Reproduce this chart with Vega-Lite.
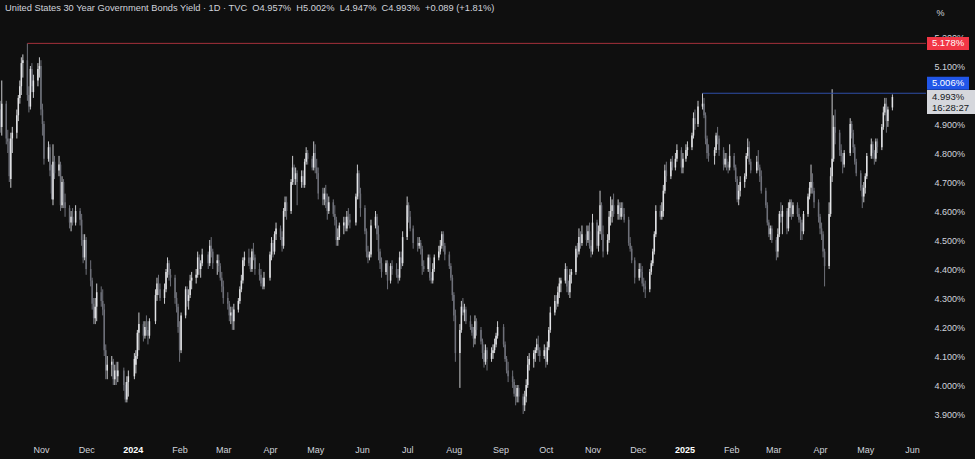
{
"$schema":"https://vega.github.io/schema/vega-lite/v6.json",
"width":926,"height":437,
"autosize":{"type":"none"},
"padding":{"left":0,"top":0,"right":49,"bottom":22},
"background":"#0f0f0f",
"config":{"view":{"stroke":null},"font":"Liberation Sans"},
"title":{"text":"United States 30 Year Government Bonds Yield · 1D · TVC\u00a0 O4.957%\u00a0 H5.002%\u00a0 L4.947%\u00a0 C4.993%\u00a0 +0.089 (+1.81%)","anchor":"start","frame":"group","orient":"top","offset":-17,"fontSize":9.3,"fontWeight":"normal","color":"#d1d4dc","dx":5,"baseline":"middle"},
"datasets":{
"candles":[
{"t":"2023-10-05","o":4.95,"h":4.98,"l":4.87,"c":4.89},
{"t":"2023-10-06","o":4.89,"h":5.05,"l":4.86,"c":4.97},
{"t":"2023-10-09","o":4.97,"h":4.98,"l":4.83,"c":4.85},
{"t":"2023-10-10","o":4.85,"h":4.88,"l":4.80,"c":4.84},
{"t":"2023-10-11","o":4.84,"h":4.85,"l":4.70,"c":4.72},
{"t":"2023-10-12","o":4.71,"h":4.87,"l":4.68,"c":4.85},
{"t":"2023-10-13","o":4.85,"h":4.89,"l":4.80,"c":4.87},
{"t":"2023-10-16","o":4.87,"h":4.95,"l":4.85,"c":4.93},
{"t":"2023-10-17","o":4.93,"h":5.00,"l":4.91,"c":4.99},
{"t":"2023-10-18","o":4.99,"h":5.05,"l":4.97,"c":5.03},
{"t":"2023-10-19","o":5.03,"h":5.13,"l":5.00,"c":5.11},
{"t":"2023-10-20","o":5.11,"h":5.14,"l":5.06,"c":5.12},
{"t":"2023-10-23","o":5.12,"h":5.178,"l":4.98,"c":5.00},
{"t":"2023-10-24","o":5.00,"h":5.03,"l":4.94,"c":4.96},
{"t":"2023-10-25","o":4.96,"h":5.10,"l":4.95,"c":5.09},
{"t":"2023-10-26","o":5.09,"h":5.11,"l":5.01,"c":5.03},
{"t":"2023-10-27","o":5.01,"h":5.07,"l":4.99,"c":5.05},
{"t":"2023-10-30","o":5.05,"h":5.11,"l":5.03,"c":5.09},
{"t":"2023-10-31","o":5.09,"h":5.13,"l":5.06,"c":5.10},
{"t":"2023-11-01","o":5.10,"h":5.12,"l":4.93,"c":4.95},
{"t":"2023-11-02","o":4.95,"h":4.97,"l":4.86,"c":4.90},
{"t":"2023-11-03","o":4.90,"h":4.91,"l":4.76,"c":4.78},
{"t":"2023-11-06","o":4.78,"h":4.84,"l":4.77,"c":4.82},
{"t":"2023-11-07","o":4.82,"h":4.83,"l":4.72,"c":4.74},
{"t":"2023-11-08","o":4.74,"h":4.76,"l":4.64,"c":4.66},
{"t":"2023-11-09","o":4.64,"h":4.83,"l":4.62,"c":4.77},
{"t":"2023-11-10","o":4.77,"h":4.79,"l":4.71,"c":4.73},
{"t":"2023-11-13","o":4.74,"h":4.79,"l":4.72,"c":4.76},
{"t":"2023-11-14","o":4.76,"h":4.77,"l":4.60,"c":4.62},
{"t":"2023-11-15","o":4.62,"h":4.72,"l":4.61,"c":4.70},
{"t":"2023-11-16","o":4.70,"h":4.71,"l":4.61,"c":4.63},
{"t":"2023-11-17","o":4.63,"h":4.66,"l":4.58,"c":4.61},
{"t":"2023-11-20","o":4.61,"h":4.62,"l":4.54,"c":4.56},
{"t":"2023-11-21","o":4.56,"h":4.60,"l":4.53,"c":4.58},
{"t":"2023-11-22","o":4.58,"h":4.61,"l":4.55,"c":4.56},
{"t":"2023-11-24","o":4.56,"h":4.62,"l":4.55,"c":4.60},
{"t":"2023-11-27","o":4.60,"h":4.61,"l":4.55,"c":4.57},
{"t":"2023-11-28","o":4.57,"h":4.59,"l":4.48,"c":4.50},
{"t":"2023-11-29","o":4.50,"h":4.52,"l":4.42,"c":4.44},
{"t":"2023-11-30","o":4.44,"h":4.52,"l":4.43,"c":4.50},
{"t":"2023-12-01","o":4.50,"h":4.51,"l":4.38,"c":4.40},
{"t":"2023-12-04","o":4.40,"h":4.43,"l":4.34,"c":4.36},
{"t":"2023-12-05","o":4.36,"h":4.37,"l":4.26,"c":4.28},
{"t":"2023-12-06","o":4.28,"h":4.30,"l":4.21,"c":4.23},
{"t":"2023-12-07","o":4.23,"h":4.30,"l":4.21,"c":4.27},
{"t":"2023-12-08","o":4.27,"h":4.35,"l":4.22,"c":4.32},
{"t":"2023-12-11","o":4.32,"h":4.34,"l":4.27,"c":4.29},
{"t":"2023-12-12","o":4.29,"h":4.33,"l":4.24,"c":4.26},
{"t":"2023-12-13","o":4.26,"h":4.28,"l":4.10,"c":4.12},
{"t":"2023-12-14","o":4.12,"h":4.14,"l":4.02,"c":4.05},
{"t":"2023-12-15","o":4.05,"h":4.10,"l":4.02,"c":4.07},
{"t":"2023-12-18","o":4.07,"h":4.10,"l":4.03,"c":4.08},
{"t":"2023-12-19","o":4.08,"h":4.09,"l":4.00,"c":4.02},
{"t":"2023-12-20","o":4.02,"h":4.07,"l":4.00,"c":4.05},
{"t":"2023-12-21","o":4.05,"h":4.08,"l":4.00,"c":4.03},
{"t":"2023-12-22","o":4.03,"h":4.08,"l":4.01,"c":4.05},
{"t":"2023-12-26","o":4.05,"h":4.06,"l":3.98,"c":4.00},
{"t":"2023-12-27","o":4.00,"h":4.01,"l":3.94,"c":3.95},
{"t":"2023-12-28","o":3.95,"h":4.03,"l":3.94,"c":4.01},
{"t":"2023-12-29","o":4.01,"h":4.05,"l":3.96,"c":4.03},
{"t":"2024-01-02","o":4.03,"h":4.11,"l":4.02,"c":4.09},
{"t":"2024-01-03","o":4.07,"h":4.12,"l":4.04,"c":4.10},
{"t":"2024-01-04","o":4.10,"h":4.19,"l":4.09,"c":4.18},
{"t":"2024-01-05","o":4.18,"h":4.25,"l":4.12,"c":4.21},
{"t":"2024-01-08","o":4.21,"h":4.22,"l":4.15,"c":4.17},
{"t":"2024-01-09","o":4.17,"h":4.22,"l":4.16,"c":4.20},
{"t":"2024-01-10","o":4.20,"h":4.24,"l":4.17,"c":4.19},
{"t":"2024-01-11","o":4.19,"h":4.22,"l":4.14,"c":4.17},
{"t":"2024-01-12","o":4.17,"h":4.23,"l":4.16,"c":4.22},
{"t":"2024-01-16","o":4.22,"h":4.33,"l":4.21,"c":4.31},
{"t":"2024-01-17","o":4.31,"h":4.37,"l":4.29,"c":4.35},
{"t":"2024-01-18","o":4.35,"h":4.38,"l":4.31,"c":4.33},
{"t":"2024-01-19","o":4.33,"h":4.35,"l":4.29,"c":4.30},
{"t":"2024-01-22","o":4.30,"h":4.35,"l":4.28,"c":4.33},
{"t":"2024-01-23","o":4.33,"h":4.40,"l":4.32,"c":4.39},
{"t":"2024-01-24","o":4.39,"h":4.44,"l":4.37,"c":4.42},
{"t":"2024-01-25","o":4.42,"h":4.43,"l":4.36,"c":4.38},
{"t":"2024-01-26","o":4.38,"h":4.40,"l":4.34,"c":4.37},
{"t":"2024-01-29","o":4.37,"h":4.38,"l":4.28,"c":4.30},
{"t":"2024-01-30","o":4.30,"h":4.32,"l":4.25,"c":4.27},
{"t":"2024-01-31","o":4.27,"h":4.28,"l":4.18,"c":4.20},
{"t":"2024-02-01","o":4.20,"h":4.22,"l":4.08,"c":4.12},
{"t":"2024-02-02","o":4.12,"h":4.25,"l":4.11,"c":4.24},
{"t":"2024-02-05","o":4.24,"h":4.34,"l":4.23,"c":4.33},
{"t":"2024-02-06","o":4.33,"h":4.34,"l":4.27,"c":4.29},
{"t":"2024-02-07","o":4.29,"h":4.33,"l":4.26,"c":4.31},
{"t":"2024-02-08","o":4.31,"h":4.38,"l":4.30,"c":4.36},
{"t":"2024-02-09","o":4.36,"h":4.39,"l":4.33,"c":4.37},
{"t":"2024-02-12","o":4.37,"h":4.40,"l":4.35,"c":4.38},
{"t":"2024-02-13","o":4.38,"h":4.46,"l":4.37,"c":4.44},
{"t":"2024-02-14","o":4.44,"h":4.45,"l":4.38,"c":4.40},
{"t":"2024-02-15","o":4.40,"h":4.43,"l":4.37,"c":4.42},
{"t":"2024-02-16","o":4.42,"h":4.47,"l":4.41,"c":4.45},
{"t":"2024-02-20","o":4.45,"h":4.46,"l":4.40,"c":4.42},
{"t":"2024-02-21","o":4.42,"h":4.50,"l":4.41,"c":4.48},
{"t":"2024-02-22","o":4.48,"h":4.51,"l":4.44,"c":4.46},
{"t":"2024-02-23","o":4.46,"h":4.47,"l":4.40,"c":4.42},
{"t":"2024-02-26","o":4.42,"h":4.45,"l":4.38,"c":4.43},
{"t":"2024-02-27","o":4.43,"h":4.45,"l":4.39,"c":4.41},
{"t":"2024-02-28","o":4.41,"h":4.42,"l":4.36,"c":4.37},
{"t":"2024-02-29","o":4.37,"h":4.39,"l":4.32,"c":4.34},
{"t":"2024-03-01","o":4.34,"h":4.36,"l":4.28,"c":4.30},
{"t":"2024-03-04","o":4.30,"h":4.32,"l":4.26,"c":4.28},
{"t":"2024-03-05","o":4.28,"h":4.29,"l":4.22,"c":4.24},
{"t":"2024-03-06","o":4.24,"h":4.27,"l":4.21,"c":4.25},
{"t":"2024-03-07","o":4.25,"h":4.27,"l":4.19,"c":4.22},
{"t":"2024-03-08","o":4.22,"h":4.28,"l":4.19,"c":4.26},
{"t":"2024-03-11","o":4.26,"h":4.30,"l":4.25,"c":4.29},
{"t":"2024-03-12","o":4.29,"h":4.34,"l":4.28,"c":4.33},
{"t":"2024-03-13","o":4.33,"h":4.38,"l":4.32,"c":4.36},
{"t":"2024-03-14","o":4.36,"h":4.44,"l":4.35,"c":4.43},
{"t":"2024-03-15","o":4.43,"h":4.46,"l":4.41,"c":4.44},
{"t":"2024-03-18","o":4.44,"h":4.47,"l":4.41,"c":4.42},
{"t":"2024-03-19","o":4.42,"h":4.44,"l":4.39,"c":4.40},
{"t":"2024-03-20","o":4.40,"h":4.47,"l":4.39,"c":4.46},
{"t":"2024-03-21","o":4.46,"h":4.49,"l":4.43,"c":4.44},
{"t":"2024-03-22","o":4.44,"h":4.45,"l":4.38,"c":4.40},
{"t":"2024-03-25","o":4.40,"h":4.42,"l":4.36,"c":4.38},
{"t":"2024-03-26","o":4.38,"h":4.40,"l":4.34,"c":4.35},
{"t":"2024-03-27","o":4.35,"h":4.37,"l":4.33,"c":4.34},
{"t":"2024-03-28","o":4.34,"h":4.39,"l":4.33,"c":4.37},
{"t":"2024-04-01","o":4.37,"h":4.46,"l":4.36,"c":4.45},
{"t":"2024-04-02","o":4.45,"h":4.51,"l":4.43,"c":4.49},
{"t":"2024-04-03","o":4.49,"h":4.50,"l":4.44,"c":4.46},
{"t":"2024-04-04","o":4.46,"h":4.53,"l":4.45,"c":4.52},
{"t":"2024-04-05","o":4.52,"h":4.56,"l":4.50,"c":4.54},
{"t":"2024-04-08","o":4.54,"h":4.55,"l":4.50,"c":4.51},
{"t":"2024-04-09","o":4.51,"h":4.53,"l":4.46,"c":4.48},
{"t":"2024-04-10","o":4.48,"h":4.61,"l":4.47,"c":4.60},
{"t":"2024-04-11","o":4.60,"h":4.65,"l":4.58,"c":4.63},
{"t":"2024-04-12","o":4.63,"h":4.65,"l":4.57,"c":4.60},
{"t":"2024-04-15","o":4.60,"h":4.71,"l":4.59,"c":4.70},
{"t":"2024-04-16","o":4.70,"h":4.79,"l":4.69,"c":4.75},
{"t":"2024-04-17","o":4.75,"h":4.76,"l":4.69,"c":4.71},
{"t":"2024-04-18","o":4.71,"h":4.75,"l":4.69,"c":4.73},
{"t":"2024-04-19","o":4.73,"h":4.74,"l":4.62,"c":4.70},
{"t":"2024-04-22","o":4.70,"h":4.74,"l":4.68,"c":4.72},
{"t":"2024-04-23","o":4.72,"h":4.74,"l":4.68,"c":4.69},
{"t":"2024-04-24","o":4.69,"h":4.78,"l":4.68,"c":4.77},
{"t":"2024-04-25","o":4.77,"h":4.82,"l":4.76,"c":4.80},
{"t":"2024-04-26","o":4.80,"h":4.81,"l":4.76,"c":4.78},
{"t":"2024-04-29","o":4.78,"h":4.79,"l":4.74,"c":4.75},
{"t":"2024-04-30","o":4.75,"h":4.84,"l":4.74,"c":4.80},
{"t":"2024-05-01","o":4.80,"h":4.83,"l":4.73,"c":4.75},
{"t":"2024-05-02","o":4.75,"h":4.78,"l":4.71,"c":4.73},
{"t":"2024-05-03","o":4.73,"h":4.75,"l":4.64,"c":4.66},
{"t":"2024-05-06","o":4.66,"h":4.68,"l":4.62,"c":4.64},
{"t":"2024-05-07","o":4.64,"h":4.68,"l":4.62,"c":4.66},
{"t":"2024-05-08","o":4.66,"h":4.69,"l":4.61,"c":4.63},
{"t":"2024-05-09","o":4.63,"h":4.66,"l":4.57,"c":4.60},
{"t":"2024-05-10","o":4.60,"h":4.65,"l":4.59,"c":4.63},
{"t":"2024-05-13","o":4.63,"h":4.64,"l":4.58,"c":4.59},
{"t":"2024-05-14","o":4.59,"h":4.62,"l":4.55,"c":4.57},
{"t":"2024-05-15","o":4.57,"h":4.58,"l":4.48,"c":4.50},
{"t":"2024-05-16","o":4.50,"h":4.54,"l":4.48,"c":4.51},
{"t":"2024-05-17","o":4.51,"h":4.56,"l":4.50,"c":4.55},
{"t":"2024-05-20","o":4.55,"h":4.58,"l":4.52,"c":4.56},
{"t":"2024-05-21","o":4.56,"h":4.58,"l":4.53,"c":4.54},
{"t":"2024-05-22","o":4.54,"h":4.60,"l":4.53,"c":4.58},
{"t":"2024-05-23","o":4.58,"h":4.61,"l":4.55,"c":4.57},
{"t":"2024-05-24","o":4.57,"h":4.59,"l":4.54,"c":4.56},
{"t":"2024-05-28","o":4.56,"h":4.66,"l":4.55,"c":4.65},
{"t":"2024-05-29","o":4.65,"h":4.76,"l":4.64,"c":4.73},
{"t":"2024-05-30","o":4.73,"h":4.74,"l":4.64,"c":4.66},
{"t":"2024-05-31","o":4.66,"h":4.68,"l":4.58,"c":4.61},
{"t":"2024-06-03","o":4.61,"h":4.62,"l":4.52,"c":4.53},
{"t":"2024-06-04","o":4.53,"h":4.54,"l":4.44,"c":4.46},
{"t":"2024-06-05","o":4.46,"h":4.48,"l":4.42,"c":4.44},
{"t":"2024-06-06","o":4.44,"h":4.46,"l":4.43,"c":4.45},
{"t":"2024-06-07","o":4.45,"h":4.57,"l":4.44,"c":4.55},
{"t":"2024-06-10","o":4.55,"h":4.60,"l":4.54,"c":4.58},
{"t":"2024-06-11","o":4.58,"h":4.59,"l":4.50,"c":4.52},
{"t":"2024-06-12","o":4.52,"h":4.55,"l":4.43,"c":4.46},
{"t":"2024-06-13","o":4.46,"h":4.47,"l":4.40,"c":4.42},
{"t":"2024-06-14","o":4.42,"h":4.44,"l":4.37,"c":4.39},
{"t":"2024-06-17","o":4.39,"h":4.43,"l":4.38,"c":4.42},
{"t":"2024-06-18","o":4.42,"h":4.43,"l":4.33,"c":4.36},
{"t":"2024-06-20","o":4.36,"h":4.42,"l":4.35,"c":4.41},
{"t":"2024-06-21","o":4.41,"h":4.43,"l":4.38,"c":4.40},
{"t":"2024-06-24","o":4.40,"h":4.42,"l":4.37,"c":4.38},
{"t":"2024-06-25","o":4.38,"h":4.40,"l":4.35,"c":4.37},
{"t":"2024-06-26","o":4.37,"h":4.46,"l":4.36,"c":4.44},
{"t":"2024-06-27","o":4.44,"h":4.46,"l":4.40,"c":4.42},
{"t":"2024-06-28","o":4.42,"h":4.53,"l":4.41,"c":4.51},
{"t":"2024-07-01","o":4.51,"h":4.65,"l":4.50,"c":4.62},
{"t":"2024-07-02","o":4.62,"h":4.63,"l":4.56,"c":4.58},
{"t":"2024-07-03","o":4.58,"h":4.60,"l":4.53,"c":4.54},
{"t":"2024-07-05","o":4.54,"h":4.55,"l":4.47,"c":4.49},
{"t":"2024-07-08","o":4.49,"h":4.51,"l":4.46,"c":4.48},
{"t":"2024-07-09","o":4.48,"h":4.51,"l":4.47,"c":4.49},
{"t":"2024-07-10","o":4.49,"h":4.50,"l":4.45,"c":4.47},
{"t":"2024-07-11","o":4.47,"h":4.48,"l":4.38,"c":4.41},
{"t":"2024-07-12","o":4.41,"h":4.43,"l":4.39,"c":4.40},
{"t":"2024-07-15","o":4.40,"h":4.45,"l":4.39,"c":4.44},
{"t":"2024-07-16","o":4.44,"h":4.45,"l":4.36,"c":4.37},
{"t":"2024-07-17","o":4.37,"h":4.39,"l":4.35,"c":4.36},
{"t":"2024-07-18","o":4.36,"h":4.42,"l":4.35,"c":4.40},
{"t":"2024-07-19","o":4.40,"h":4.45,"l":4.39,"c":4.44},
{"t":"2024-07-22","o":4.44,"h":4.48,"l":4.43,"c":4.46},
{"t":"2024-07-23","o":4.46,"h":4.50,"l":4.45,"c":4.48},
{"t":"2024-07-24","o":4.48,"h":4.53,"l":4.47,"c":4.52},
{"t":"2024-07-25","o":4.52,"h":4.53,"l":4.46,"c":4.48},
{"t":"2024-07-26","o":4.48,"h":4.49,"l":4.43,"c":4.45},
{"t":"2024-07-29","o":4.45,"h":4.46,"l":4.40,"c":4.41},
{"t":"2024-07-30","o":4.41,"h":4.42,"l":4.36,"c":4.37},
{"t":"2024-07-31","o":4.37,"h":4.38,"l":4.29,"c":4.31},
{"t":"2024-08-01","o":4.31,"h":4.32,"l":4.22,"c":4.24},
{"t":"2024-08-02","o":4.24,"h":4.26,"l":4.08,"c":4.11},
{"t":"2024-08-05","o":4.11,"h":4.21,"l":3.99,"c":4.19},
{"t":"2024-08-06","o":4.19,"h":4.29,"l":4.18,"c":4.27},
{"t":"2024-08-07","o":4.27,"h":4.30,"l":4.24,"c":4.25},
{"t":"2024-08-08","o":4.25,"h":4.28,"l":4.22,"c":4.26},
{"t":"2024-08-09","o":4.26,"h":4.27,"l":4.21,"c":4.22},
{"t":"2024-08-12","o":4.22,"h":4.24,"l":4.19,"c":4.20},
{"t":"2024-08-13","o":4.20,"h":4.21,"l":4.17,"c":4.18},
{"t":"2024-08-14","o":4.18,"h":4.20,"l":4.13,"c":4.16},
{"t":"2024-08-15","o":4.16,"h":4.24,"l":4.14,"c":4.22},
{"t":"2024-08-16","o":4.22,"h":4.23,"l":4.17,"c":4.19},
{"t":"2024-08-19","o":4.19,"h":4.20,"l":4.14,"c":4.15},
{"t":"2024-08-20","o":4.15,"h":4.16,"l":4.09,"c":4.11},
{"t":"2024-08-21","o":4.11,"h":4.14,"l":4.06,"c":4.08},
{"t":"2024-08-22","o":4.08,"h":4.14,"l":4.07,"c":4.12},
{"t":"2024-08-23","o":4.12,"h":4.13,"l":4.05,"c":4.09},
{"t":"2024-08-26","o":4.09,"h":4.13,"l":4.08,"c":4.11},
{"t":"2024-08-27","o":4.11,"h":4.14,"l":4.09,"c":4.12},
{"t":"2024-08-28","o":4.12,"h":4.16,"l":4.11,"c":4.14},
{"t":"2024-08-29","o":4.14,"h":4.18,"l":4.13,"c":4.17},
{"t":"2024-08-30","o":4.17,"h":4.22,"l":4.16,"c":4.20},
{"t":"2024-09-03","o":4.20,"h":4.21,"l":4.13,"c":4.14},
{"t":"2024-09-04","o":4.14,"h":4.15,"l":4.08,"c":4.09},
{"t":"2024-09-05","o":4.09,"h":4.10,"l":4.04,"c":4.05},
{"t":"2024-09-06","o":4.05,"h":4.08,"l":4.01,"c":4.03},
{"t":"2024-09-09","o":4.03,"h":4.05,"l":3.99,"c":4.01},
{"t":"2024-09-10","o":4.01,"h":4.02,"l":3.96,"c":3.97},
{"t":"2024-09-11","o":3.97,"h":4.00,"l":3.93,"c":3.96},
{"t":"2024-09-12","o":3.96,"h":4.00,"l":3.94,"c":3.99},
{"t":"2024-09-13","o":3.99,"h":4.00,"l":3.94,"c":3.96},
{"t":"2024-09-16","o":3.96,"h":3.97,"l":3.90,"c":3.93},
{"t":"2024-09-17","o":3.93,"h":3.98,"l":3.91,"c":3.96},
{"t":"2024-09-18","o":3.96,"h":4.02,"l":3.94,"c":4.00},
{"t":"2024-09-19","o":4.00,"h":4.10,"l":3.99,"c":4.07},
{"t":"2024-09-20","o":4.07,"h":4.11,"l":4.05,"c":4.09},
{"t":"2024-09-23","o":4.09,"h":4.12,"l":4.06,"c":4.11},
{"t":"2024-09-24","o":4.11,"h":4.13,"l":4.08,"c":4.12},
{"t":"2024-09-25","o":4.12,"h":4.16,"l":4.11,"c":4.14},
{"t":"2024-09-26","o":4.14,"h":4.17,"l":4.10,"c":4.12},
{"t":"2024-09-27","o":4.12,"h":4.13,"l":4.08,"c":4.10},
{"t":"2024-09-30","o":4.10,"h":4.14,"l":4.09,"c":4.12},
{"t":"2024-10-01","o":4.12,"h":4.13,"l":4.06,"c":4.08},
{"t":"2024-10-02","o":4.08,"h":4.15,"l":4.07,"c":4.13},
{"t":"2024-10-03","o":4.13,"h":4.20,"l":4.12,"c":4.19},
{"t":"2024-10-04","o":4.19,"h":4.27,"l":4.18,"c":4.25},
{"t":"2024-10-07","o":4.25,"h":4.31,"l":4.24,"c":4.29},
{"t":"2024-10-08","o":4.29,"h":4.31,"l":4.26,"c":4.28},
{"t":"2024-10-09","o":4.28,"h":4.34,"l":4.27,"c":4.32},
{"t":"2024-10-10","o":4.32,"h":4.37,"l":4.30,"c":4.35},
{"t":"2024-10-11","o":4.35,"h":4.37,"l":4.32,"c":4.36},
{"t":"2024-10-14","o":4.36,"h":4.42,"l":4.35,"c":4.40},
{"t":"2024-10-15","o":4.40,"h":4.41,"l":4.32,"c":4.34},
{"t":"2024-10-16","o":4.34,"h":4.36,"l":4.31,"c":4.32},
{"t":"2024-10-17","o":4.32,"h":4.40,"l":4.30,"c":4.38},
{"t":"2024-10-18","o":4.38,"h":4.40,"l":4.35,"c":4.39},
{"t":"2024-10-21","o":4.39,"h":4.48,"l":4.38,"c":4.47},
{"t":"2024-10-22","o":4.47,"h":4.49,"l":4.44,"c":4.46},
{"t":"2024-10-23","o":4.46,"h":4.54,"l":4.45,"c":4.51},
{"t":"2024-10-24","o":4.51,"h":4.53,"l":4.47,"c":4.49},
{"t":"2024-10-25","o":4.49,"h":4.55,"l":4.48,"c":4.52},
{"t":"2024-10-28","o":4.52,"h":4.55,"l":4.48,"c":4.50},
{"t":"2024-10-29","o":4.50,"h":4.55,"l":4.49,"c":4.53},
{"t":"2024-10-30","o":4.53,"h":4.56,"l":4.47,"c":4.48},
{"t":"2024-10-31","o":4.48,"h":4.50,"l":4.44,"c":4.46},
{"t":"2024-11-01","o":4.46,"h":4.59,"l":4.45,"c":4.56},
{"t":"2024-11-04","o":4.56,"h":4.57,"l":4.47,"c":4.48},
{"t":"2024-11-05","o":4.48,"h":4.55,"l":4.46,"c":4.53},
{"t":"2024-11-06","o":4.53,"h":4.67,"l":4.52,"c":4.62},
{"t":"2024-11-07","o":4.62,"h":4.63,"l":4.50,"c":4.52},
{"t":"2024-11-08","o":4.52,"h":4.55,"l":4.44,"c":4.46},
{"t":"2024-11-11","o":4.46,"h":4.52,"l":4.45,"c":4.50},
{"t":"2024-11-12","o":4.50,"h":4.60,"l":4.49,"c":4.58},
{"t":"2024-11-13","o":4.58,"h":4.65,"l":4.55,"c":4.60},
{"t":"2024-11-14","o":4.60,"h":4.64,"l":4.56,"c":4.62},
{"t":"2024-11-15","o":4.62,"h":4.66,"l":4.58,"c":4.59},
{"t":"2024-11-18","o":4.59,"h":4.64,"l":4.57,"c":4.62},
{"t":"2024-11-19","o":4.62,"h":4.63,"l":4.57,"c":4.58},
{"t":"2024-11-20","o":4.58,"h":4.63,"l":4.57,"c":4.61},
{"t":"2024-11-21","o":4.61,"h":4.63,"l":4.58,"c":4.59},
{"t":"2024-11-22","o":4.59,"h":4.61,"l":4.56,"c":4.57},
{"t":"2024-11-25","o":4.57,"h":4.58,"l":4.48,"c":4.49},
{"t":"2024-11-26","o":4.49,"h":4.51,"l":4.46,"c":4.47},
{"t":"2024-11-27","o":4.47,"h":4.48,"l":4.42,"c":4.43},
{"t":"2024-11-29","o":4.43,"h":4.44,"l":4.35,"c":4.37},
{"t":"2024-12-02","o":4.37,"h":4.42,"l":4.36,"c":4.40},
{"t":"2024-12-03","o":4.40,"h":4.42,"l":4.37,"c":4.39},
{"t":"2024-12-04","o":4.39,"h":4.41,"l":4.34,"c":4.35},
{"t":"2024-12-05","o":4.35,"h":4.37,"l":4.32,"c":4.34},
{"t":"2024-12-06","o":4.34,"h":4.36,"l":4.30,"c":4.33},
{"t":"2024-12-09","o":4.33,"h":4.40,"l":4.32,"c":4.39},
{"t":"2024-12-10","o":4.39,"h":4.43,"l":4.38,"c":4.42},
{"t":"2024-12-11","o":4.42,"h":4.47,"l":4.41,"c":4.46},
{"t":"2024-12-12","o":4.46,"h":4.53,"l":4.45,"c":4.52},
{"t":"2024-12-13","o":4.52,"h":4.62,"l":4.51,"c":4.60},
{"t":"2024-12-16","o":4.60,"h":4.62,"l":4.57,"c":4.58},
{"t":"2024-12-17","o":4.58,"h":4.63,"l":4.57,"c":4.60},
{"t":"2024-12-18","o":4.60,"h":4.69,"l":4.58,"c":4.67},
{"t":"2024-12-19","o":4.67,"h":4.76,"l":4.66,"c":4.74},
{"t":"2024-12-20","o":4.74,"h":4.77,"l":4.70,"c":4.72},
{"t":"2024-12-23","o":4.72,"h":4.78,"l":4.71,"c":4.77},
{"t":"2024-12-24","o":4.77,"h":4.79,"l":4.74,"c":4.75},
{"t":"2024-12-26","o":4.75,"h":4.80,"l":4.74,"c":4.78},
{"t":"2024-12-27","o":4.78,"h":4.83,"l":4.77,"c":4.81},
{"t":"2024-12-30","o":4.81,"h":4.82,"l":4.73,"c":4.75},
{"t":"2024-12-31","o":4.75,"h":4.80,"l":4.73,"c":4.78},
{"t":"2025-01-02","o":4.78,"h":4.83,"l":4.77,"c":4.81},
{"t":"2025-01-03","o":4.81,"h":4.84,"l":4.79,"c":4.82},
{"t":"2025-01-06","o":4.82,"h":4.87,"l":4.81,"c":4.86},
{"t":"2025-01-07","o":4.86,"h":4.94,"l":4.85,"c":4.92},
{"t":"2025-01-08","o":4.92,"h":4.95,"l":4.88,"c":4.90},
{"t":"2025-01-10","o":4.90,"h":4.98,"l":4.89,"c":4.96},
{"t":"2025-01-13","o":4.96,"h":5.006,"l":4.95,"c":4.97},
{"t":"2025-01-14","o":4.97,"h":4.99,"l":4.92,"c":4.93},
{"t":"2025-01-15","o":4.93,"h":4.94,"l":4.83,"c":4.85},
{"t":"2025-01-16","o":4.85,"h":4.86,"l":4.78,"c":4.80},
{"t":"2025-01-17","o":4.80,"h":4.83,"l":4.77,"c":4.79},
{"t":"2025-01-21","o":4.79,"h":4.82,"l":4.76,"c":4.81},
{"t":"2025-01-22","o":4.81,"h":4.87,"l":4.80,"c":4.86},
{"t":"2025-01-23","o":4.86,"h":4.89,"l":4.83,"c":4.85},
{"t":"2025-01-24","o":4.85,"h":4.86,"l":4.79,"c":4.81},
{"t":"2025-01-27","o":4.81,"h":4.82,"l":4.74,"c":4.76},
{"t":"2025-01-28","o":4.76,"h":4.80,"l":4.75,"c":4.78},
{"t":"2025-01-29","o":4.78,"h":4.80,"l":4.74,"c":4.76},
{"t":"2025-01-30","o":4.76,"h":4.77,"l":4.73,"c":4.75},
{"t":"2025-01-31","o":4.75,"h":4.83,"l":4.74,"c":4.79},
{"t":"2025-02-03","o":4.79,"h":4.80,"l":4.74,"c":4.75},
{"t":"2025-02-04","o":4.75,"h":4.76,"l":4.70,"c":4.71},
{"t":"2025-02-05","o":4.71,"h":4.72,"l":4.63,"c":4.64},
{"t":"2025-02-06","o":4.64,"h":4.69,"l":4.62,"c":4.67},
{"t":"2025-02-07","o":4.67,"h":4.72,"l":4.65,"c":4.70},
{"t":"2025-02-10","o":4.70,"h":4.73,"l":4.68,"c":4.72},
{"t":"2025-02-11","o":4.72,"h":4.80,"l":4.71,"c":4.79},
{"t":"2025-02-12","o":4.79,"h":4.85,"l":4.78,"c":4.82},
{"t":"2025-02-13","o":4.82,"h":4.84,"l":4.76,"c":4.77},
{"t":"2025-02-14","o":4.77,"h":4.78,"l":4.73,"c":4.74},
{"t":"2025-02-18","o":4.74,"h":4.79,"l":4.73,"c":4.77},
{"t":"2025-02-19","o":4.77,"h":4.81,"l":4.74,"c":4.75},
{"t":"2025-02-20","o":4.75,"h":4.76,"l":4.70,"c":4.72},
{"t":"2025-02-21","o":4.72,"h":4.74,"l":4.66,"c":4.67},
{"t":"2025-02-24","o":4.67,"h":4.68,"l":4.61,"c":4.62},
{"t":"2025-02-25","o":4.62,"h":4.63,"l":4.55,"c":4.56},
{"t":"2025-02-26","o":4.56,"h":4.57,"l":4.51,"c":4.52},
{"t":"2025-02-27","o":4.52,"h":4.55,"l":4.50,"c":4.54},
{"t":"2025-02-28","o":4.54,"h":4.55,"l":4.49,"c":4.50},
{"t":"2025-03-03","o":4.50,"h":4.51,"l":4.43,"c":4.46},
{"t":"2025-03-04","o":4.46,"h":4.54,"l":4.44,"c":4.52},
{"t":"2025-03-05","o":4.52,"h":4.60,"l":4.51,"c":4.59},
{"t":"2025-03-06","o":4.59,"h":4.63,"l":4.56,"c":4.58},
{"t":"2025-03-07","o":4.58,"h":4.62,"l":4.52,"c":4.60},
{"t":"2025-03-10","o":4.60,"h":4.61,"l":4.52,"c":4.54},
{"t":"2025-03-11","o":4.54,"h":4.63,"l":4.53,"c":4.61},
{"t":"2025-03-12","o":4.61,"h":4.64,"l":4.58,"c":4.63},
{"t":"2025-03-13","o":4.63,"h":4.64,"l":4.57,"c":4.59},
{"t":"2025-03-14","o":4.59,"h":4.63,"l":4.58,"c":4.62},
{"t":"2025-03-17","o":4.62,"h":4.63,"l":4.58,"c":4.59},
{"t":"2025-03-18","o":4.59,"h":4.61,"l":4.56,"c":4.57},
{"t":"2025-03-19","o":4.57,"h":4.58,"l":4.50,"c":4.56},
{"t":"2025-03-20","o":4.56,"h":4.57,"l":4.50,"c":4.53},
{"t":"2025-03-21","o":4.53,"h":4.60,"l":4.52,"c":4.59},
{"t":"2025-03-24","o":4.59,"h":4.66,"l":4.58,"c":4.65},
{"t":"2025-03-25","o":4.65,"h":4.70,"l":4.64,"c":4.68},
{"t":"2025-03-26","o":4.68,"h":4.76,"l":4.66,"c":4.70},
{"t":"2025-03-27","o":4.70,"h":4.73,"l":4.66,"c":4.67},
{"t":"2025-03-28","o":4.67,"h":4.68,"l":4.61,"c":4.63},
{"t":"2025-03-31","o":4.63,"h":4.64,"l":4.56,"c":4.58},
{"t":"2025-04-01","o":4.58,"h":4.59,"l":4.52,"c":4.54},
{"t":"2025-04-02","o":4.54,"h":4.56,"l":4.50,"c":4.52},
{"t":"2025-04-03","o":4.52,"h":4.53,"l":4.44,"c":4.46},
{"t":"2025-04-04","o":4.46,"h":4.47,"l":4.34,"c":4.41},
{"t":"2025-04-07","o":4.41,"h":4.63,"l":4.40,"c":4.59},
{"t":"2025-04-08","o":4.59,"h":4.75,"l":4.58,"c":4.72},
{"t":"2025-04-09","o":4.72,"h":5.02,"l":4.70,"c":4.78},
{"t":"2025-04-10","o":4.78,"h":4.93,"l":4.77,"c":4.89},
{"t":"2025-04-11","o":4.89,"h":4.95,"l":4.83,"c":4.87},
{"t":"2025-04-14","o":4.87,"h":4.88,"l":4.79,"c":4.81},
{"t":"2025-04-15","o":4.81,"h":4.83,"l":4.77,"c":4.79},
{"t":"2025-04-16","o":4.79,"h":4.80,"l":4.73,"c":4.76},
{"t":"2025-04-17","o":4.76,"h":4.81,"l":4.75,"c":4.80},
{"t":"2025-04-21","o":4.80,"h":4.92,"l":4.79,"c":4.90},
{"t":"2025-04-22","o":4.90,"h":4.91,"l":4.85,"c":4.87},
{"t":"2025-04-23","o":4.87,"h":4.88,"l":4.80,"c":4.82},
{"t":"2025-04-24","o":4.82,"h":4.83,"l":4.76,"c":4.77},
{"t":"2025-04-25","o":4.77,"h":4.78,"l":4.72,"c":4.73},
{"t":"2025-04-28","o":4.73,"h":4.74,"l":4.67,"c":4.68},
{"t":"2025-04-29","o":4.68,"h":4.69,"l":4.61,"c":4.65},
{"t":"2025-04-30","o":4.65,"h":4.70,"l":4.63,"c":4.68},
{"t":"2025-05-01","o":4.68,"h":4.73,"l":4.66,"c":4.72},
{"t":"2025-05-02","o":4.72,"h":4.80,"l":4.71,"c":4.79},
{"t":"2025-05-05","o":4.79,"h":4.85,"l":4.78,"c":4.83},
{"t":"2025-05-06","o":4.83,"h":4.84,"l":4.78,"c":4.80},
{"t":"2025-05-07","o":4.80,"h":4.81,"l":4.76,"c":4.78},
{"t":"2025-05-08","o":4.78,"h":4.85,"l":4.77,"c":4.84},
{"t":"2025-05-09","o":4.84,"h":4.85,"l":4.80,"c":4.82},
{"t":"2025-05-12","o":4.82,"h":4.90,"l":4.81,"c":4.89},
{"t":"2025-05-13","o":4.89,"h":4.96,"l":4.88,"c":4.94},
{"t":"2025-05-14","o":4.94,"h":4.99,"l":4.93,"c":4.97},
{"t":"2025-05-15","o":4.97,"h":4.99,"l":4.87,"c":4.91},
{"t":"2025-05-16","o":4.91,"h":4.96,"l":4.89,"c":4.95},
{"t":"2025-05-19","o":4.957,"h":5.002,"l":4.947,"c":4.993}
],
"levels":[
{"t":"2023-10-23","v":5.178,"lab":"5.178%","kind":"high"},
{"t":"2025-01-13","v":5.006,"lab":"5.006%","kind":"jan"}
],
"last":[
{"t":"2025-05-19","v":4.993,"lab":"4.993%","sub":"16:28:27"}
]
},
"layer":[
{"data":{"name":"candles"},
 "mark":{"type":"rule","strokeWidth":1},
 "encoding":{
  "x":{"field":"t","type":"temporal",
   "scale":{"type":"utc","domain":[{"year":2023,"month":10,"date":4,"hours":20,"utc":true},{"year":2025,"month":6,"date":10,"hours":7,"utc":true}]},
   "axis":{"title":null,"orient":"bottom","grid":false,"ticks":false,"domain":false,"tickCount":{"interval":"month","step":1},
    "labelExpr":"utcmonth(datum.value) == 0 ? utcFormat(datum.value, '%Y') : utcFormat(datum.value, '%b')",
    "labelFontSize":9,"labelPadding":8,"labelFlush":false,"labelOverlap":false,
    "labelColor":{"condition":{"test":"utcmonth(datum.value) == 0","value":"#ffffff"},"value":"#d1d4dc"},
    "labelFontWeight":{"condition":{"test":"utcmonth(datum.value) == 0","value":"bold"},"value":"normal"}}},
  "y":{"field":"l","type":"quantitative",
   "scale":{"domain":[3.8207,5.3276],"nice":false,"zero":false},
   "axis":{"orient":"right","title":"%","titleAngle":0,"titleX":10,"titleY":12,"titleAlign":"left","titleBaseline":"middle","titleColor":"#d1d4dc","titleFontSize":9,"titleFontWeight":"normal",
    "grid":false,"ticks":false,"domain":false,"tickCount":30,"values":[3.9,4.0,4.1,4.2,4.3,4.4,4.5,4.6,4.7,4.8,4.9,5.1,5.2],"labelOverlap":false,
    "labelExpr":"format(datum.value, '.3f') + '%'","labelFontSize":9,"labelColor":"#d1d4dc","labelPadding":8,"labelAlign":"left","labelBaseline":"middle"}},
  "y2":{"field":"h"},
  "color":{"condition":{"test":"datum.c >= datum.o","value":"#c9cacd"},"value":"#6e7079"}
 }},
{"data":{"name":"candles"},
 "mark":{"type":"rule","strokeWidth":1.5},
 "encoding":{
  "x":{"field":"t","type":"temporal"},
  "y":{"field":"o","type":"quantitative"},
  "y2":{"field":"c"},
  "color":{"condition":{"test":"datum.c >= datum.o","value":"#e2e3e6"},"value":"#6e7079"}
 }},
{"data":{"name":"levels"},
 "mark":{"type":"rule","strokeWidth":1},
 "encoding":{
  "x":{"field":"t","type":"temporal"},
  "x2":{"value":"width"},
  "y":{"field":"v","type":"quantitative"},
  "color":{"condition":{"test":"datum.kind == 'high'","value":"#a3303b"},"value":"#2f4fa8"}
 }},
{"data":{"name":"levels"},
 "transform":[{"filter":"datum.kind == 'high'"}],
 "mark":{"type":"point","shape":"M1,-6.5H43V6.5H1Z","size":4,"filled":true,"opacity":1,"strokeWidth":0,"color":"#f23645"},
 "encoding":{
  "x":{"value":"width"},
  "y":{"field":"v","type":"quantitative"}
 }},
{"data":{"name":"levels"},
 "transform":[{"filter":"datum.kind == 'high'"}],
 "mark":{"type":"text","dx":22,"align":"center","baseline":"middle","fontSize":9.5,"fill":"#ffffff"},
 "encoding":{
  "x":{"value":"width"},
  "y":{"field":"v","type":"quantitative"},
  "text":{"field":"lab"}
 }},
{"data":{"name":"levels"},
 "transform":[{"filter":"datum.kind == 'jan'"}],
 "mark":{"type":"point","shape":"M1,-16.5H43V-3.5H1Z","size":4,"filled":true,"opacity":1,"strokeWidth":0,"color":"#2156e8"},
 "encoding":{
  "x":{"value":"width"},
  "y":{"field":"v","type":"quantitative"}
 }},
{"data":{"name":"levels"},
 "transform":[{"filter":"datum.kind == 'jan'"}],
 "mark":{"type":"text","dx":22,"dy":-10,"align":"center","baseline":"middle","fontSize":9.5,"fill":"#ffffff"},
 "encoding":{
  "x":{"value":"width"},
  "y":{"field":"v","type":"quantitative"},
  "text":{"field":"lab"}
 }},
{"data":{"name":"last"},
 "mark":{"type":"point","shape":"M1,-7H49V17H1Z","size":4,"filled":true,"opacity":1,"strokeWidth":0,"color":"#d5d7dc"},
 "encoding":{
  "x":{"value":"width"},
  "y":{"field":"v","type":"quantitative"}
 }},
{"data":{"name":"last"},
 "mark":{"type":"text","dx":6,"align":"left","baseline":"middle","fontSize":9.5,"fill":"#131722"},
 "encoding":{
  "x":{"value":"width"},
  "y":{"field":"v","type":"quantitative"},
  "text":{"field":"lab"}
 }},
{"data":{"name":"last"},
 "mark":{"type":"text","dx":6,"dy":11,"align":"left","baseline":"middle","fontSize":9.5,"fill":"#131722"},
 "encoding":{
  "x":{"value":"width"},
  "y":{"field":"v","type":"quantitative"},
  "text":{"field":"sub"}
 }}
]
}
